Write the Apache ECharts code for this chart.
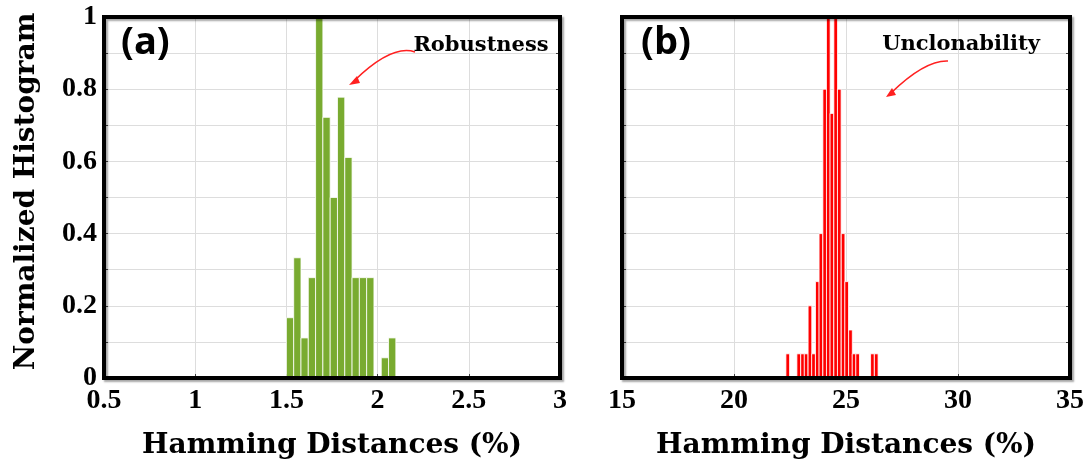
<!DOCTYPE html>
<html>
<head>
<meta charset="utf-8">
<script src="https://cdn.jsdelivr.net/npm/echarts@6/dist/echarts.min.js"></script>
<style>
html,body{margin:0;padding:0;background:#fff;}
#chart{width:1087px;height:465px;}
</style>
</head>
<body>
<div id="chart"></div>
<script>
// Panel (a): robustness histogram (bin centres, normalized heights)
const binCentersA = [1.52, 1.56, 1.60, 1.64, 1.68, 1.72, 1.76, 1.80, 1.84, 1.88, 1.92, 1.96, 2.04, 2.08];
const valuesA     = [0.167, 0.333, 0.111, 0.278, 1.0, 0.722, 0.5, 0.778, 0.611, 0.278, 0.278, 0.278, 0.056, 0.111];
const binWidthA = 0.04;

// Panel (b): unclonability histogram
const binCentersB = [22.40, 22.89, 23.06, 23.22, 23.39, 23.55, 23.72, 23.88, 24.05, 24.21, 24.37, 24.54, 24.70, 24.87, 25.03, 25.20, 25.36, 25.52, 26.18, 26.35];
const valuesB     = [0.067, 0.067, 0.067, 0.067, 0.2, 0.067, 0.267, 0.4, 0.8, 1.0, 0.733, 1.0, 0.8, 0.4, 0.267, 0.133, 0.067, 0.067, 0.067, 0.067];
const binWidthB = 0.1643;

const xTicksA = {min: 0.5, max: 3, interval: 0.5};
const xTicksB = {min: 15, max: 35, interval: 5};
const yTicks  = {min: 0, max: 1, interval: 0.1};

const xTitle = 'Hamming Distances (%)';
const yTitle = 'Normalized Histogram';

const SERIF = '"DejaVu Serif", "Liberation Serif", serif';
const TICKFONT = '"Liberation Serif", "DejaVu Serif", serif';

const chart = echarts.init(document.getElementById('chart'), null, {renderer: 'canvas'});

function barRenderer(width, color) {
  return function (params, api) {
    const x = api.value(0), y = api.value(1);
    const p0 = api.coord([x - width / 2, y]);
    const p1 = api.coord([x + width / 2, 0]);
    return {
      type: 'rect',
      shape: {x: p0[0], y: p0[1], width: p1[0] - p0[0], height: p1[1] - p0[1]},
      style: {fill: color, stroke: '#ffffff', lineWidth: 0.8}
    };
  };
}

const gridCommon = {
  show: true, z: 10, top: 17, height: 361,
  borderColor: '#000', borderWidth: 4, backgroundColor: 'transparent',
  shadowColor: 'rgba(0,0,0,0.35)', shadowBlur: 2, shadowOffsetX: 2, shadowOffsetY: 2
};

function xAxisDef(gridIndex, ticks) {
  return {
    type: 'value', gridIndex: gridIndex, min: ticks.min, max: ticks.max, interval: ticks.interval,
    position: 'bottom',
    name: xTitle, nameLocation: 'middle', nameGap: 54,
    nameTextStyle: {fontFamily: SERIF, fontWeight: 'bold', fontSize: 28, color: '#000'},
    axisLine: {show: false},
    axisTick: {show: true, inside: true, length: 4, lineStyle: {color: '#444'}},
    axisLabel: {fontFamily: TICKFONT, fontWeight: 'bold', fontSize: 28, color: '#000', margin: 9},
    splitLine: {show: true, lineStyle: {color: '#dddddd', width: 1}}
  };
}

function yAxisDef(gridIndex, showLabels) {
  return {
    type: 'value', gridIndex: gridIndex, min: yTicks.min, max: yTicks.max, interval: yTicks.interval,
    position: 'left',
    name: showLabels ? yTitle : '', nameLocation: 'middle', nameGap: 63,
    nameTextStyle: {fontFamily: SERIF, fontWeight: 'bold', fontSize: 28, color: '#000', padding: [0, 0, 0, 12]},
    axisLine: {show: false},
    axisTick: {show: true, inside: true, length: 4, lineStyle: {color: '#444'}},
    axisLabel: {
      show: showLabels, fontFamily: TICKFONT, fontWeight: 'bold', fontSize: 28, color: '#000', margin: 7,
      formatter: function (v) {
        const t = Math.round(v * 10);
        if (t % 2 !== 0) return '';
        return String(t / 10);
      }
    },
    splitLine: {show: true, lineStyle: {color: '#dddddd', width: 1}}
  };
}

function yRightDef(gridIndex) {
  return {
    type: 'value', gridIndex: gridIndex, min: yTicks.min, max: yTicks.max, interval: yTicks.interval,
    position: 'right',
    axisLine: {show: false},
    axisTick: {show: true, inside: true, length: 4, lineStyle: {color: '#444'}},
    axisLabel: {show: false},
    splitLine: {show: false}
  };
}

const option = {
  animation: false,
  backgroundColor: '#fff',
  grid: [
    Object.assign({left: 104, width: 456}, gridCommon),
    Object.assign({left: 622, width: 458}, gridCommon)
  ],
  xAxis: [xAxisDef(0, xTicksA), xAxisDef(1, xTicksB)],
  yAxis: [yAxisDef(0, true), yAxisDef(1, false), yRightDef(0), yRightDef(1)],
  series: [
    {
      type: 'custom', xAxisIndex: 0, yAxisIndex: 0, clip: true,
      renderItem: barRenderer(binWidthA, '#79ab30'),
      data: binCentersA.map((x, i) => [x, valuesA[i]])
    },
    {
      type: 'custom', xAxisIndex: 1, yAxisIndex: 1, clip: true,
      renderItem: barRenderer(binWidthB, '#ff0000'),
      data: binCentersB.map((x, i) => [x, valuesB[i]])
    }
  ],
  graphic: [
    {type: 'text', x: 121, y: 24, z: 20, style: {text: '(a)', font: 'bold 38px "Open Sans", "Noto Sans", sans-serif', fill: '#000'}},
    {type: 'text', x: 641, y: 24, z: 20, style: {text: '(b)', font: 'bold 38px "Open Sans", "Noto Sans", sans-serif', fill: '#000'}},
    {type: 'text', x: 481, y: 46, z: 20, style: {text: 'Robustness', font: 'bold 21px ' + SERIF, fill: '#000', align: 'center', verticalAlign: 'middle'}},
    {type: 'text', x: 961, y: 45, z: 20, style: {text: 'Unclonability', font: 'bold 21px ' + SERIF, fill: '#000', align: 'center', verticalAlign: 'middle'}},
    {type: 'bezierCurve', z: 20, shape: {x1: 415, y1: 52, x2: 354, y2: 81, cpx1: 392, cpy1: 44}, style: {stroke: '#ff2020', lineWidth: 1.6, fill: null}},
    {type: 'polygon', z: 20, shape: {points: [[349, 85], [357, 76], [360, 83]]}, style: {fill: '#ff2020'}},
    {type: 'bezierCurve', z: 20, shape: {x1: 948, y1: 61, x2: 891, y2: 93, cpx1: 925, cpy1: 60}, style: {stroke: '#ff2020', lineWidth: 1.6, fill: null}},
    {type: 'polygon', z: 20, shape: {points: [[886, 97], [892, 88], [896, 95]]}, style: {fill: '#ff2020'}}
  ]
};

chart.setOption(option);
</script>
</body>
</html>
